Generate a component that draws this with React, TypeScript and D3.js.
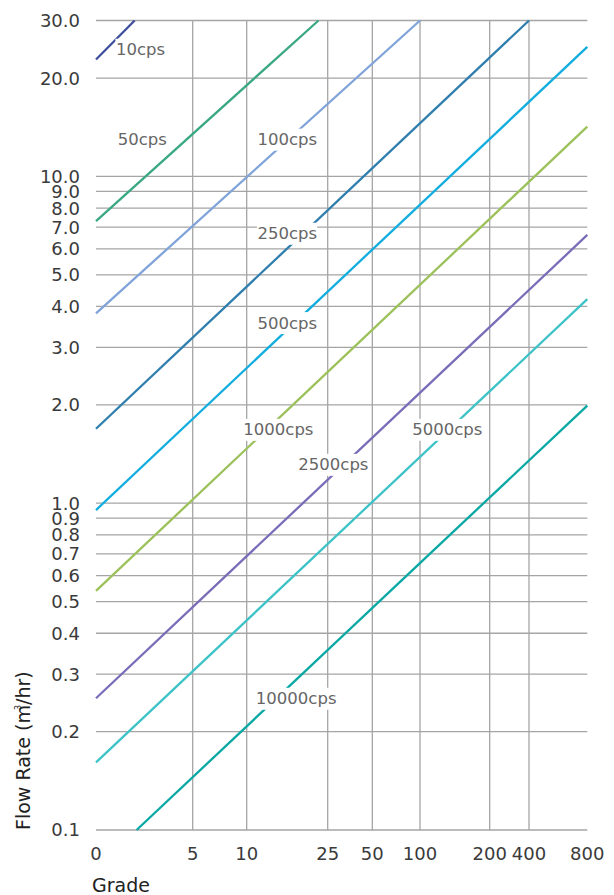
import React from 'react';
import * as d3 from 'd3';

// grade axis (uneven spacing)
const grades = [0, 5, 10, 25, 50, 100, 200, 400, 800];
const gradeLabels = ['0', '5', '10', '25', '50', '100', '200', '400', '800'];
const gradeSpacing = [0, 0.1968, 0.3067, 0.4716, 0.5624, 0.6595, 0.8013, 0.8813, 1];

const flowTicks = [0.1, 0.2, 0.3, 0.4, 0.5, 0.6, 0.7, 0.8, 0.9, 1, 2, 3, 4, 5, 6, 7, 8, 9, 10, 20, 30];

// viscosity lines: start and end point of each one
const series = ['10cps', '50cps', '100cps', '250cps', '500cps', '1000cps', '2500cps', '5000cps', '10000cps'];
const startGrade = [0, 0, 0, 0, 0, 0, 0, 0, 2.1];
const startFlow = [22.8, 7.3, 3.81, 1.69, 0.953, 0.539, 0.253, 0.161, 0.1];
const endGrade = [2, 23.3, 100, 400, 800, 800, 800, 800, 800];
const endFlow = [30, 30, 30, 30, 24.9, 14.2, 6.62, 4.21, 1.99];

// where the series name is written
const labelGrade = [1.03, 1.12, 12, 12, 12, 9.69, 19.56, 91.9, 11.7];
const labelFlow = [24.5, 13, 13, 6.7, 3.57, 1.683, 1.315, 1.683, 0.253];

const colors = ['#3d4f9b', '#3aa884', '#80a4d9', '#2f7eae', '#12addf', '#9cc15a', '#7a6cb8', '#3dc3c7', '#0aa8a4'];

const W = 614;
const H = 895;
const left = 96;
const right = 587.3;
const top = 20.5;
const bottom = 830;
const font = '"DejaVu Sans", sans-serif';

const App = () => {
  const x = d3
    .scaleLinear()
    .domain(grades)
    .range(gradeSpacing.map((f) => left + f * (right - left)));
  const y = d3.scaleLog().domain([0.1, 30]).range([bottom, top]);

  const line = d3
    .line<[number, number]>()
    .x((d) => x(d[0]))
    .y((d) => y(d[1]));

  const gridColor = '#a5a5a5';

  return (
    <svg width={W} height={H} style={{ position: 'absolute', left: 0, top: 0, display: 'block' }}>
      <rect width={W} height={H} fill="#fff" />

      {/* horizontal grid */}
      {flowTicks.map((v) => (
        <line key={'h' + v} x1={left} x2={right} y1={y(v)} y2={y(v)} stroke={gridColor} strokeWidth={1.3} />
      ))}
      {/* vertical grid, not at the two ends */}
      {grades.slice(1, -1).map((g) => (
        <line key={'v' + g} x1={x(g)} x2={x(g)} y1={top} y2={bottom} stroke={gridColor} strokeWidth={1.3} />
      ))}

      {series.map((s, i) => (
        <path
          key={s}
          d={line([
            [startGrade[i], startFlow[i]],
            [endGrade[i], endFlow[i]],
          ]) || ''}
          fill="none"
          stroke={colors[i]}
          strokeWidth={2.3}
        />
      ))}

      {series.map((s, i) => {
        const lx = x(labelGrade[i]);
        const ly = y(labelFlow[i]);
        const w = s.length * 9.7 + 2;
        return (
          <g key={'l' + s}>
            <rect x={lx - 0.5} y={ly - 10.5} width={w} height={22} fill="#fff" />
            <text x={lx} y={ly} dy="0.36em" fontFamily={font} fontSize={16.5} fill="#666">
              {s}
            </text>
          </g>
        );
      })}

      {/* y tick labels */}
      {flowTicks.map((v) => (
        <text
          key={'yt' + v}
          x={80}
          y={y(v)}
          dy="0.36em"
          textAnchor="end"
          fontFamily={font}
          fontSize={18}
          fill="#3a3a3a"
        >
          {v.toFixed(1)}
        </text>
      ))}

      {/* x tick labels */}
      {grades.map((g, i) => (
        <text key={'xt' + g} x={x(g)} y={860} textAnchor="middle" fontFamily={font} fontSize={18} fill="#3a3a3a">
          {gradeLabels[i]}
        </text>
      ))}

      <text x={92} y={892} fontFamily={font} fontSize={19} fill="#222">
        Grade
      </text>
      <text
        transform={`translate(29.5, ${bottom}) rotate(-90)`}
        fontFamily={font}
        fontSize={19}
        fill="#222"
      >
        Flow Rate (m
        <tspan fontSize={8} dx={-5} dy={-9}>
          3
        </tspan>
        <tspan dy={9}>/hr)</tspan>
      </text>
    </svg>
  );
};

export default App;
